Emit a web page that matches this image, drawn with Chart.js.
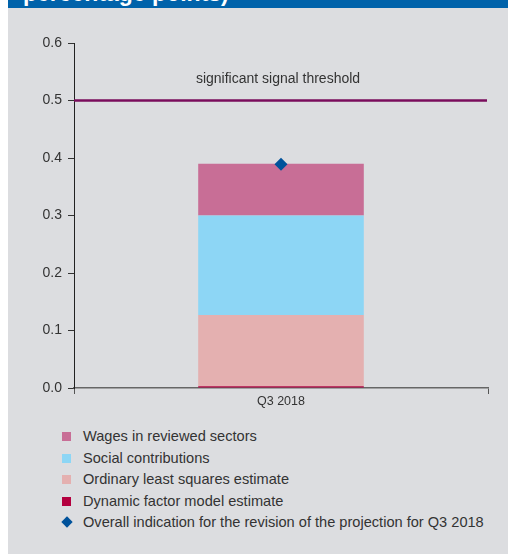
<!DOCTYPE html>
<html>
<head>
<meta charset="utf-8">
<script src="https://cdn.jsdelivr.net/npm/chart.js@4.4.1/dist/chart.umd.min.js"></script>
<style>
  body { margin: 0; width: 508px; height: 554px; background: #fff; position: relative; overflow: hidden; font-family: "Liberation Sans", Arial, sans-serif; }
  #head { position: absolute; left: 8px; top: 0; width: 500px; height: 8px; background: #0062aa; overflow: hidden; }
  #head span { position: absolute; left: 15px; top: -18.5px; font: bold 23px/23px "Liberation Sans", Arial, sans-serif; color: #fff; white-space: nowrap; }
  #panel { position: absolute; left: 8px; top: 8px; width: 500px; height: 546px; background: #dcdde0; }
  #wrap { position: absolute; left: 0; top: 0; width: 500px; height: 412px; }
  #legend { position: absolute; left: 0; top: 418px; }
  .row { position: absolute; left: 54px; height: 21.5px; line-height: 21.5px; font-size: 14.6px; color: #333; white-space: nowrap; }
  .sw { position: absolute; left: 0; top: 6px; width: 9px; height: 9px; }
  .dia { position: absolute; left: 0.5px; top: 6px; width: 8px; height: 8px; transform: rotate(45deg); }
  .txt { position: absolute; left: 21px; top: 0; }
</style>
</head>
<body>
<div id="head"><span>percentage points)</span></div>
<div id="panel">
  <div id="wrap"><canvas id="chart"></canvas></div>
  <div id="legend"></div>
</div>
<script>
// data
const categories = ["Q3 2018"];
const dynamicFactor = [0.003];
const olsEstimate = [0.124];
const socialContrib = [0.173];
const wagesReviewed = [0.09];
const overallIndication = [0.389];
const thresholdValue = 0.5;
const thresholdLabel = "significant signal threshold";

const seriesNames = [
    "Dynamic factor model estimate",
    "Ordinary least squares estimate",
    "Social contributions",
    "Wages in reviewed sectors",
    "Overall indication for the revision of the projection for Q3 2018"
];
const seriesColors = ["#b3003f", "#e4b0b0", "#8dd6f5", "#c86e96", "#00529b"];

// threshold line + its label, drawn on the y scale
const thresholdPlugin = {
    id: "threshold",
    afterDatasetsDraw(chart) {
        const { ctx, chartArea, scales } = chart;
        const y = scales.y.getPixelForValue(thresholdValue);
        ctx.save();
        ctx.strokeStyle = "#7a0c5c";
        ctx.lineWidth = 2.5;
        ctx.beginPath();
        ctx.moveTo(chartArea.left, y);
        ctx.lineTo(chartArea.right - 1, y);
        ctx.stroke();
        ctx.fillStyle = "#333";
        ctx.font = "14px 'Liberation Sans', Arial, sans-serif";
        ctx.textAlign = "center";
        ctx.textBaseline = "middle";
        ctx.fillText(thresholdLabel, (chartArea.left + chartArea.right) / 2 - 3, y - 21);
        ctx.restore();
    }
};

const barSet = (i, values) => ({
    type: "bar",
    label: seriesNames[i],
    data: values,
    backgroundColor: seriesColors[i],
    stack: "parts",
    categoryPercentage: 1,
    barPercentage: 0.4,
    order: 2
});

new Chart(document.getElementById("chart").getContext("2d"), {
    data: {
        labels: categories,
        datasets: [
            barSet(0, dynamicFactor),
            barSet(1, olsEstimate),
            barSet(2, socialContrib),
            barSet(3, wagesReviewed),
            {
                type: "line",
                label: seriesNames[4],
                data: overallIndication,
                stack: "overall",
                showLine: false,
                pointStyle: "rectRot",
                pointRadius: 6.5,
                pointBorderWidth: 0,
                pointBackgroundColor: seriesColors[4],
                pointBorderColor: seriesColors[4],
                order: 1
            }
        ]
    },
    options: {
        responsive: true,
        maintainAspectRatio: false,
        animation: false,
        layout: { padding: { top: 35, right: 20, left: 0, bottom: 0 } },
        plugins: { legend: { display: false }, tooltip: { enabled: false } },
        scales: {
            x: {
                stacked: true,
                offset: true,
                grid: { offset: true, drawOnChartArea: false, tickLength: 6, color: "#555", lineWidth: 1 },
                border: { color: "#666", width: 1.5 },
                ticks: { color: "#333", padding: 0, font: { family: "'Liberation Sans', Arial, sans-serif", size: 12.5 } },
                afterFit: s => { s.height = 32; }
            },
            y: {
                stacked: true,
                min: 0,
                max: 0.6,
                ticks: { stepSize: 0.1, color: "#333", padding: 6, callback: v => v.toFixed(1), font: { family: "'Liberation Sans', Arial, sans-serif", size: 14 } },
                grid: { drawOnChartArea: false, tickLength: 6, color: "#333" },
                border: { color: "#222", width: 1 },
                afterFit: s => { s.width = 66; }
            }
        }
    },
    plugins: [thresholdPlugin]
});

// legend, top row first (reverse of stacking order), diamond last
const legend = document.getElementById("legend");
const legendOrder = [3, 2, 1, 0, 4];
legendOrder.forEach((idx, r) => {
    const row = document.createElement("div");
    row.className = "row";
    row.style.top = (r * 21.5) + "px";
    const mark = document.createElement("div");
    mark.className = idx === 4 ? "dia" : "sw";
    mark.style.background = seriesColors[idx];
    const txt = document.createElement("span");
    txt.className = "txt";
    txt.textContent = seriesNames[idx];
    row.appendChild(mark);
    row.appendChild(txt);
    legend.appendChild(row);
});
</script>
</body>
</html>
